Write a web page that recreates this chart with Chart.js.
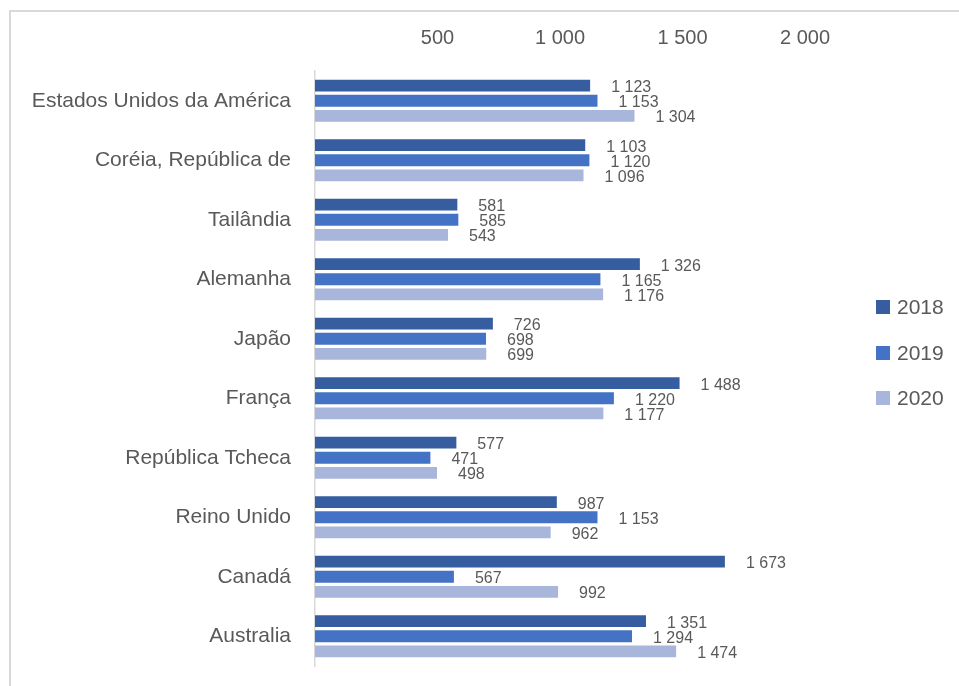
<!DOCTYPE html>
<html>
<head>
<meta charset="utf-8">
<script src="https://cdn.jsdelivr.net/npm/chart.js@4"></script>
<style>
    body { margin: 0; background: #fff; }
    #wrap { position: relative; width: 959px; height: 686px; overflow: hidden; }
    #frame {
        position: absolute; left: 9px; top: 10px; width: 980px; height: 700px;
        border: 2px solid #d9d9d9; box-sizing: border-box;
    }
    #chart-box { position: absolute; left: 0; top: 0; width: 959px; height: 686px; }
    .legend {
        position: absolute; left: 876px; top: 294px;
        font-family: "Liberation Sans", Arial, sans-serif; font-size: 21px; color: #595959;
    }
    .legend-item { display: flex; align-items: center; height: 26px; margin-bottom: 19.5px; }
    .legend-item span.box { width: 14px; height: 14px; margin-right: 7px; display: inline-block; }
</style>
</head>
<body>
<div id="wrap">
    <div id="frame"></div>
    <div id="chart-box"><canvas id="chart"></canvas></div>
    <div class="legend" id="legend"></div>
</div>
<script>
// data
const categories = [
    'Estados Unidos da América',
    'Coréia, República de',
    'Tailândia',
    'Alemanha',
    'Japão',
    'França',
    'República Tcheca',
    'Reino Unido',
    'Canadá',
    'Australia'
];
const seriesNames = ['2018', '2019', '2020'];
const values2018 = [1123, 1103, 581, 1326, 726, 1488, 577, 987, 1673, 1351];
const values2019 = [1153, 1120, 585, 1165, 698, 1220, 471, 1153, 567, 1294];
const values2020 = [1304, 1096, 543, 1176, 699, 1177, 498, 962, 992, 1474];
const tickValues = [500, 1000, 1500, 2000];
const tickLabels = ['500', '1 000', '1 500', '2 000'];

const colors = ['#355da0', '#4472c4', '#a9b6dc'];
const textColor = '#595959';
const fontFamily = '"Liberation Sans", Arial, sans-serif';

function fmt(v) {
    return String(v).replace(/\B(?=(\d{3})+(?!\d))/g, ' ');
}

// value labels to the right of each bar
const valueLabels = {
    id: 'valueLabels',
    afterDatasetsDraw(chart) {
        const ctx = chart.ctx;
        ctx.save();
        ctx.font = '16px ' + fontFamily;
        ctx.fillStyle = textColor;
        ctx.textAlign = 'left';
        ctx.textBaseline = 'middle';
        chart.data.datasets.forEach((ds, i) => {
            const meta = chart.getDatasetMeta(i);
            meta.data.forEach((bar, j) => {
                ctx.fillText(fmt(ds.data[j]), bar.x + 21, bar.y + 2);
            });
        });
        ctx.restore();
    }
};

const allValues = [values2018, values2019, values2020];

new Chart(document.getElementById('chart'), {
    type: 'bar',
    data: {
        labels: categories,
        datasets: seriesNames.map((name, i) => ({
            label: name,
            data: allValues[i],
            backgroundColor: colors[i],
            borderWidth: 0,
            categoryPercentage: 0.76,
            barPercentage: 0.78
        }))
    },
    options: {
        indexAxis: 'y',
        responsive: true,
        maintainAspectRatio: false,
        animation: false,
        layout: { padding: { left: 0, right: 154, top: 0, bottom: 20 } },
        plugins: {
            legend: { display: false },
            tooltip: { enabled: false }
        },
        scales: {
            x: {
                position: 'top',
                min: 0,
                max: 2000,
                afterBuildTicks: axis => { axis.ticks = tickValues.map(v => ({ value: v })); },
                afterFit: axis => { axis.height = 71; },
                grid: { display: false, drawTicks: false },
                border: { display: false },
                ticks: {
                    padding: 21,
                    color: textColor,
                    font: { family: fontFamily, size: 20 },
                    callback: v => tickLabels[tickValues.indexOf(v)]
                }
            },
            y: {
                afterFit: axis => {
                    axis.width = 315;
                    axis.paddingTop = 0;
                    axis.paddingBottom = 0;
                },
                grid: { display: false, drawTicks: false },
                border: { display: true, color: '#d9d9d9', width: 1.5 },
                ticks: {
                    padding: 24,
                    color: textColor,
                    font: { family: fontFamily, size: 21 }
                }
            }
        }
    },
    plugins: [valueLabels]
});

// legend
const legend = document.getElementById('legend');
seriesNames.forEach((name, i) => {
    const item = document.createElement('div');
    item.className = 'legend-item';
    item.innerHTML = '<span class="box" style="background:' + colors[i] + '"></span>' + name;
    legend.appendChild(item);
});
</script>
</body>
</html>
